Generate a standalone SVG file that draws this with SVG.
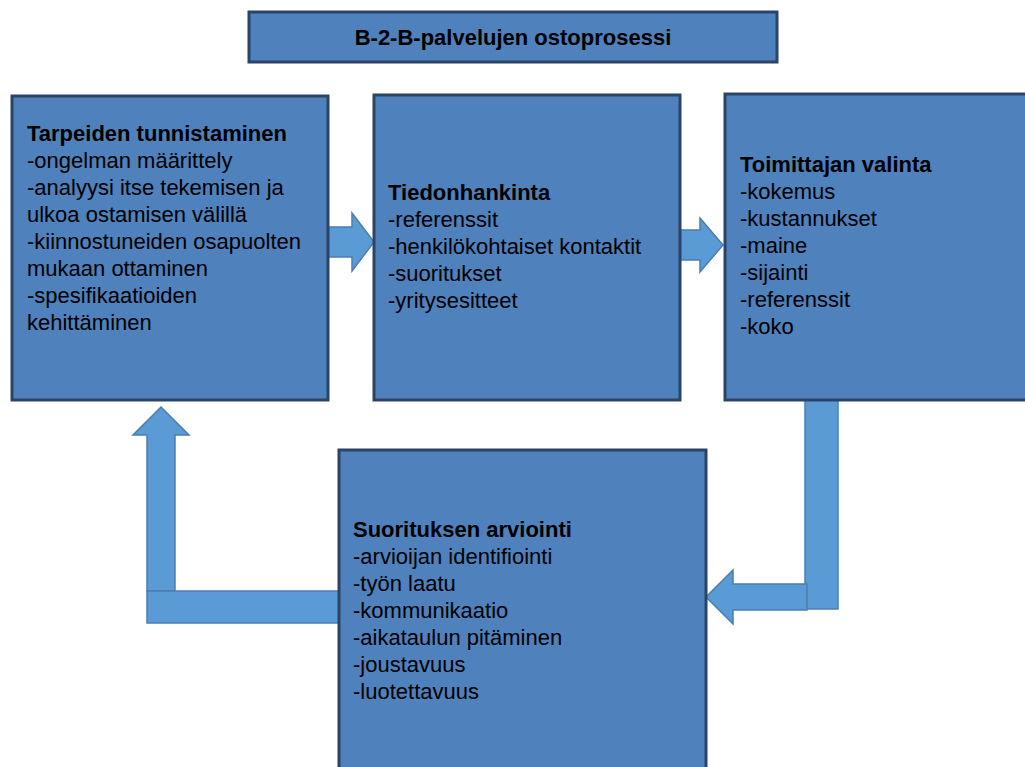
<svg xmlns="http://www.w3.org/2000/svg" width="1025" height="767" viewBox="0 0 1025 767">
<style>
.box{fill:#4F81BD;stroke:#2A4468;stroke-width:3}
.arr{fill:#5B9BD5;stroke:#4A7EB0;stroke-width:1.5}
text{font-family:"Liberation Sans",Arial,sans-serif;font-size:22px;fill:#000}
.b{font-weight:bold}
</style>
<rect width="1025" height="767" fill="#fff"/>
<g id="connectors">
<g id="arrow1"><polygon class="arr" points="328,227 352,227 352,213 374,242 352,271 352,257 328,257"/></g>
<g id="arrow2"><polygon class="arr" points="680,230 700,230 700,218 723,245 700,272 700,260 680,260"/></g>
<g id="arrow3">
<rect class="arr" x="805" y="399" width="33" height="210"/>
<polygon class="arr" points="807,584 733,584 733,570 706,597 733,624 733,610 807,610"/>
</g>
<g id="arrow4">
<polygon class="arr" points="147,591 147,435 133,435 161,407 189,435 175,435 175,591"/>
<rect class="arr" x="147" y="591" width="192" height="32"/>
</g>
</g>
<g id="title">
<rect class="box" x="249" y="12" width="528" height="50"/>
<text class="b" x="513" y="45" text-anchor="middle">B-2-B-palvelujen ostoprosessi</text>
</g>
<g id="tarpeiden">
<rect class="box" x="12" y="96" width="316" height="304"/>
<text x="27" y="141"><tspan class="b">Tarpeiden tunnistaminen</tspan><tspan x="27" dy="27">-ongelman määrittely</tspan><tspan x="27" dy="27">-analyysi itse tekemisen ja</tspan><tspan x="27" dy="27">ulkoa ostamisen välillä</tspan><tspan x="27" dy="27">-kiinnostuneiden osapuolten</tspan><tspan x="27" dy="27">mukaan ottaminen</tspan><tspan x="27" dy="27">-spesifikaatioiden</tspan><tspan x="27" dy="27">kehittäminen</tspan></text>
</g>
<g id="tiedonhankinta">
<rect class="box" x="374" y="95" width="306" height="305"/>
<text x="388" y="200"><tspan class="b">Tiedonhankinta</tspan><tspan x="388" dy="27">-referenssit</tspan><tspan x="388" dy="27">-henkilökohtaiset kontaktit</tspan><tspan x="388" dy="27">-suoritukset</tspan><tspan x="388" dy="27">-yritysesitteet</tspan></text>
</g>
<g id="toimittajan">
<rect class="box" x="725" y="94" width="310" height="306"/>
<text x="740" y="172"><tspan class="b">Toimittajan valinta</tspan><tspan x="740" dy="27">-kokemus</tspan><tspan x="740" dy="27">-kustannukset</tspan><tspan x="740" dy="27">-maine</tspan><tspan x="740" dy="27">-sijainti</tspan><tspan x="740" dy="27">-referenssit</tspan><tspan x="740" dy="27">-koko</tspan></text>
</g>
<g id="suorituksen">
<rect class="box" x="339" y="450" width="367" height="330"/>
<text x="353" y="537"><tspan class="b">Suorituksen arviointi</tspan><tspan x="353" dy="27">-arvioijan identifiointi</tspan><tspan x="353" dy="27">-työn laatu</tspan><tspan x="353" dy="27">-kommunikaatio</tspan><tspan x="353" dy="27">-aikataulun pitäminen</tspan><tspan x="353" dy="27">-joustavuus</tspan><tspan x="353" dy="27">-luotettavuus</tspan></text>
</g>
</svg>
